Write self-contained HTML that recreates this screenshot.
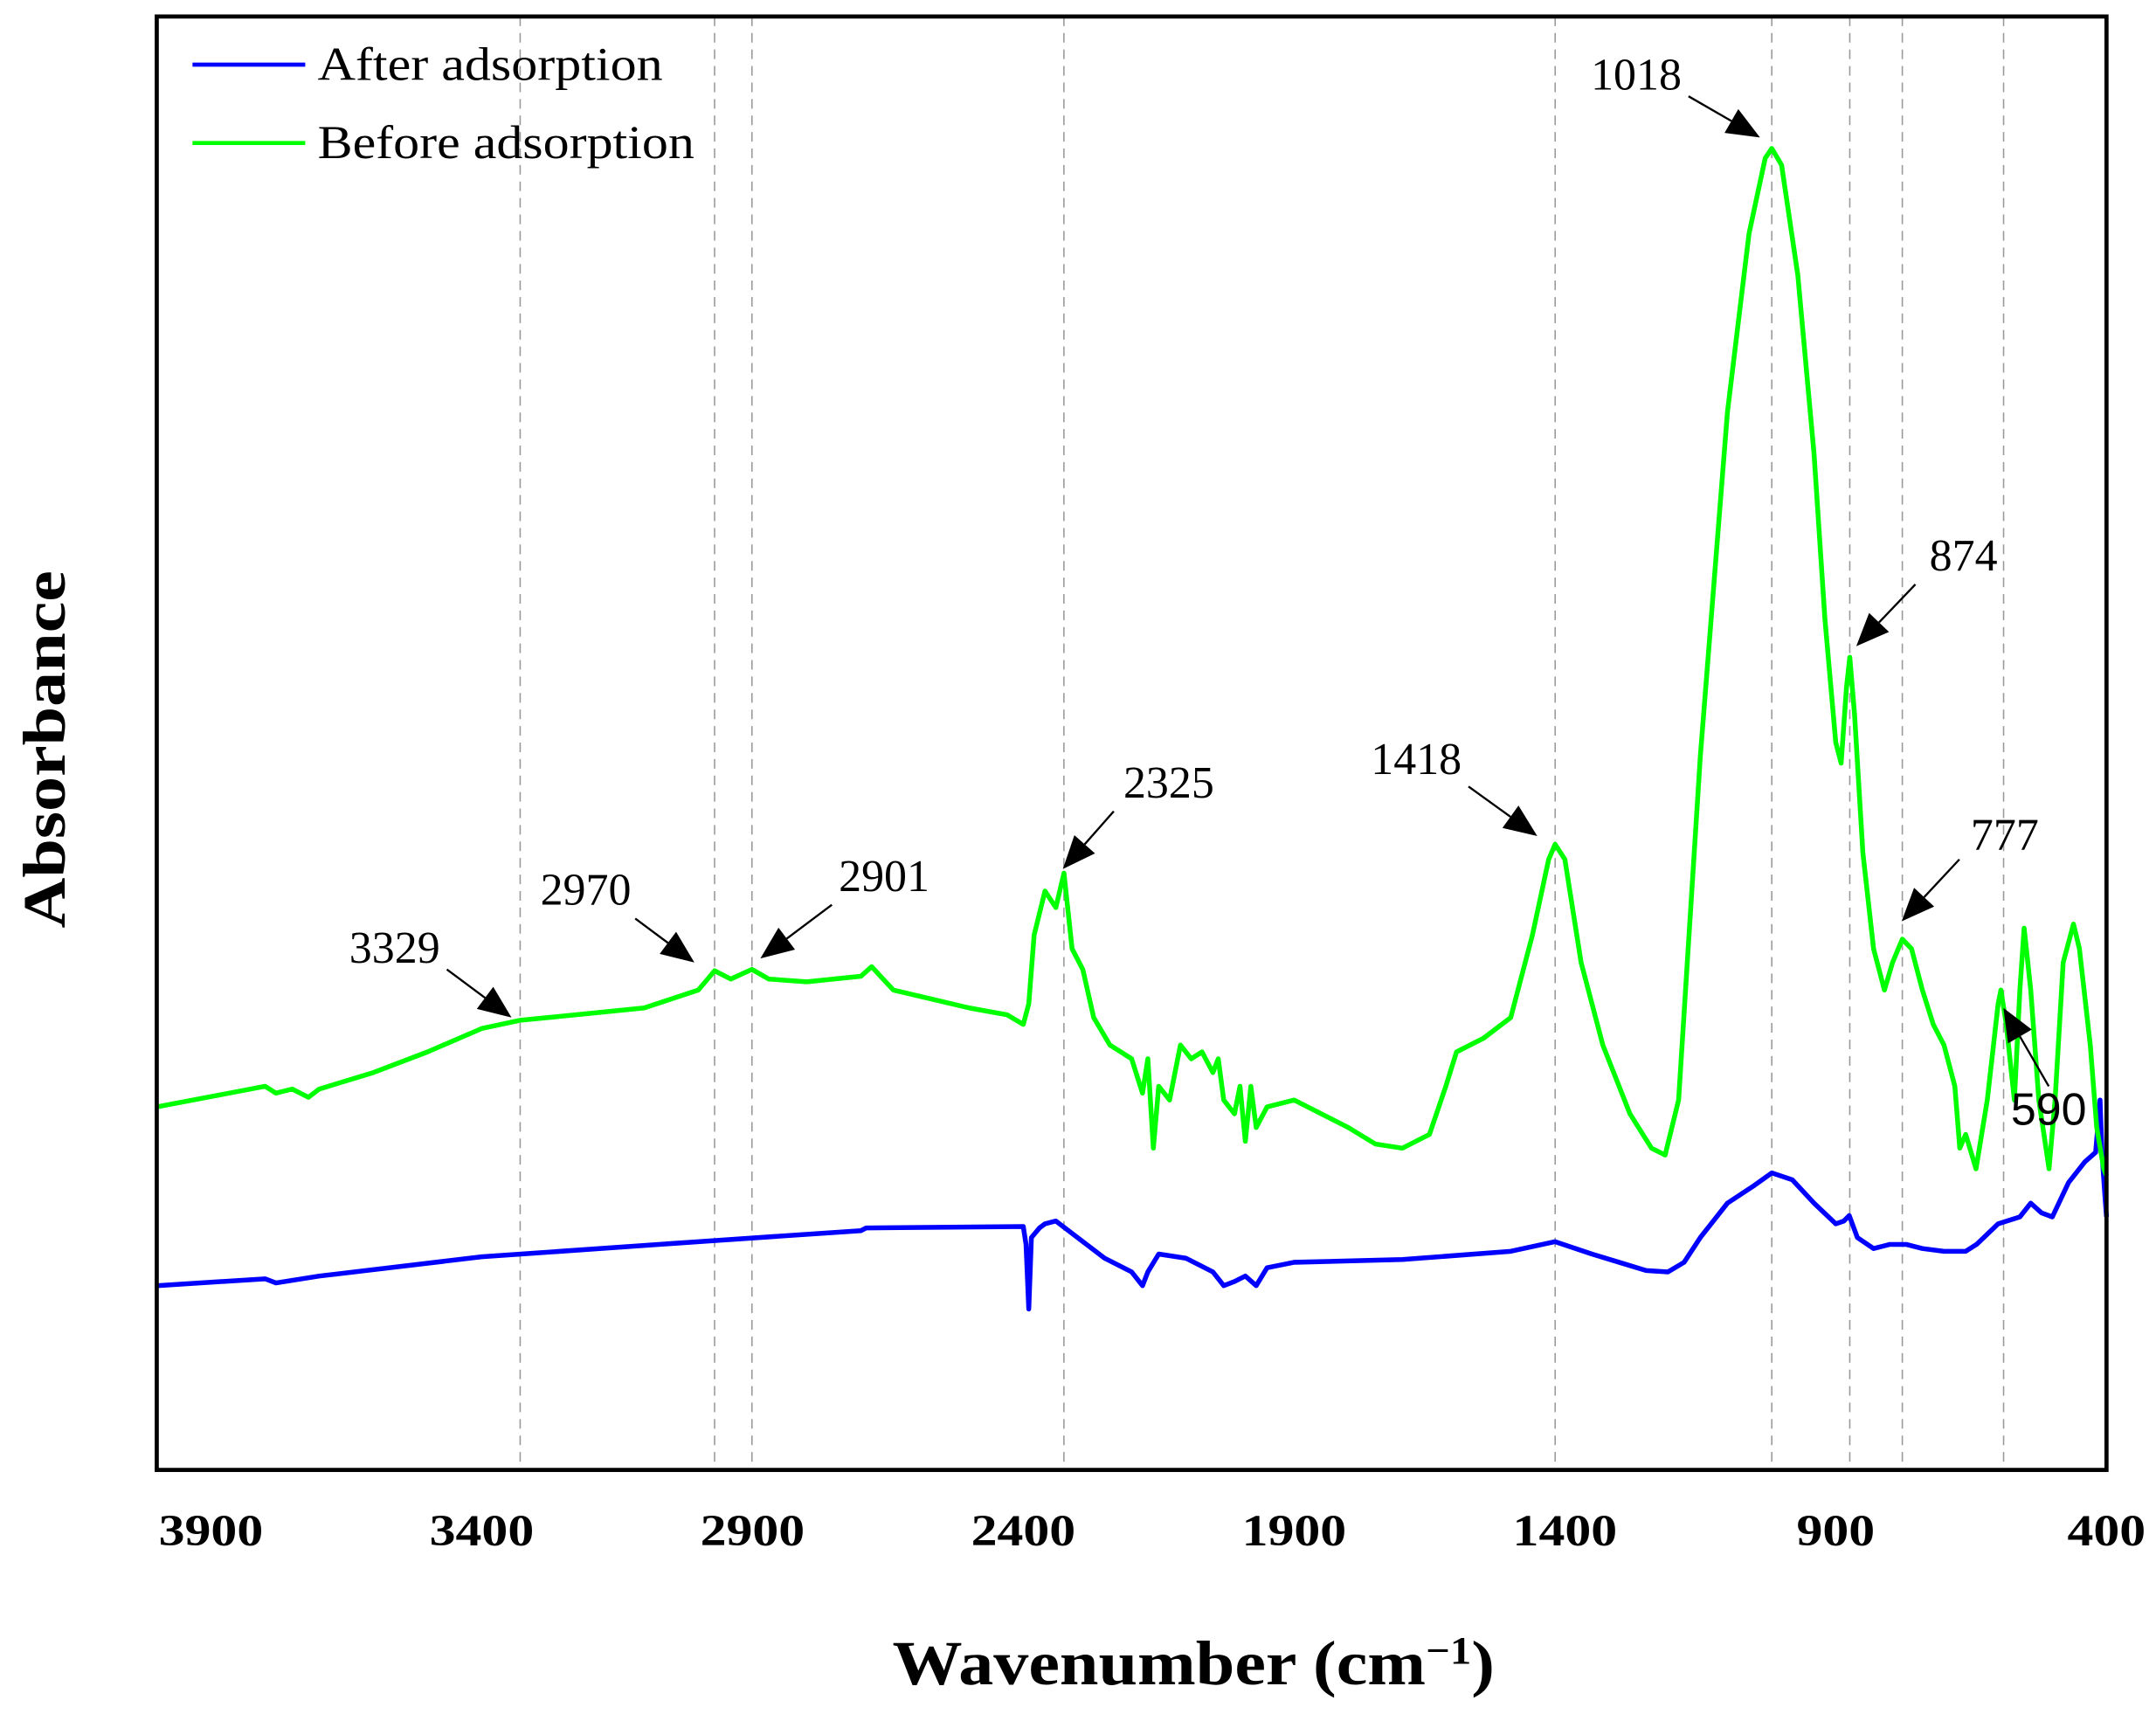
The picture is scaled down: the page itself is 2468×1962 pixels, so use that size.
<!DOCTYPE html>
<html><head><meta charset="utf-8"><style>
html,body{margin:0;padding:0;background:#fff;}
svg{display:block;}
</style></head><body>
<svg id="chart" width="2468" height="1962" viewBox="0 0 1568 1246.5" preserveAspectRatio="none" xmlns="http://www.w3.org/2000/svg">
<rect x="0" y="0" width="1568" height="1246.5" fill="#fff"/>
<g id="grid"></g>
<g id="series"></g>
<rect x="114" y="12" width="1418" height="1057" fill="none" stroke="#000" stroke-width="3"/>
<g id="xticks" font-family="Liberation Serif, serif" font-weight="bold" font-size="32" text-anchor="middle"></g>
<g id="annots"></g>
<g>
 <line x1="140" y1="47" x2="222" y2="47" stroke="#0000ff" stroke-width="3"/>
 <text x="231" y="58" font-family="Liberation Serif, serif" font-size="34" textLength="251" lengthAdjust="spacingAndGlyphs">After adsorption</text>
 <line x1="140" y1="104" x2="222" y2="104" stroke="#00ff00" stroke-width="3"/>
 <text x="231" y="115" font-family="Liberation Serif, serif" font-size="34" textLength="274" lengthAdjust="spacingAndGlyphs">Before adsorption</text>
</g>
<text transform="translate(47,545) rotate(-90)" text-anchor="middle" font-family="Liberation Serif, serif" font-weight="bold" font-size="44" textLength="260" lengthAdjust="spacingAndGlyphs">Absorbance</text>
<text x="868" y="1225" text-anchor="middle" font-family="Liberation Serif, serif" font-weight="bold" font-size="46" textLength="438" lengthAdjust="spacingAndGlyphs">Wavenumber (cm<tspan baseline-shift="super" font-size="28">−1</tspan>)</text>
</svg>
<script>
const xTicks = [3900,3400,2900,2400,1900,1400,900,400];
const peakLabels = [3329,2970,2901,2325,1418,1018,874,777,590];
const greenWn = [4000,3800,3780,3750,3720,3700,3600,3500,3400,3329,3200,3100,3000,2970,2940,2901,2870,2800,2700,2680,2640,2500,2430,2400,2390,2380,2360,2340,2325,2310,2290,2270,2240,2200,2180,2170,2160,2150,2130,2110,2090,2070,2050,2040,2030,2010,2000,1990,1980,1970,1950,1900,1850,1800,1750,1700,1650,1620,1600,1550,1500,1460,1430,1418,1400,1370,1330,1280,1240,1215,1190,1150,1100,1060,1030,1018,1000,970,940,920,900,890,880,874,865,850,830,810,795,777,760,740,720,700,680,671,660,641,620,600,595,585,570,560,552,540,525,506,495,480,461,450,430,418,405,400];
const greenAbs = [264,279,274,277,271,277,289,304,321,327,332,336,349,363,357,364,357,355,359,366,349,336,331,324,339,389,421,409,434,379,364,329,309,299,274,299,234,279,269,309,299,304,289,299,269,259,279,239,279,249,264,269,259,249,237,234,244,279,304,314,329,389,444,455,444,369,309,259,234,229,269,519,769,899,954,961,949,869,739,619,529,514,569,591,549,449,379,349,369,386,379,349,324,309,279,234,244,219,269,339,349,324,269,349,394,349,269,219,269,369,397,379,309,249,219,214];
const blueWn = [4000,3800,3780,3700,3400,3000,2700,2690,2400,2395,2390,2385,2370,2360,2340,2300,2250,2200,2180,2170,2150,2100,2050,2030,2010,1990,1970,1950,1900,1700,1500,1418,1350,1300,1250,1210,1180,1150,1100,1050,1018,980,940,900,885,875,860,830,800,770,740,700,660,640,600,560,540,520,500,470,440,420,412,408,403,400];
const blueAbs = [134,139,136,141,155,166,174,176,177,164,117,169,176,179,181,169,154,144,134,144,157,154,144,134,137,141,134,147,151,153,159,166,157,151,145,144,151,169,194,207,216,211,194,179,181,185,169,161,164,164,161,159,159,164,179,184,194,187,184,209,224,231,269,229,200,184];
const NS="http://www.w3.org/2000/svg";
const L=114,R=1532,T=12,B=1069;
const xs = w => L + (4000-w)/3600*(R-L);
const ys = a => B - a;
function el(tag, attrs, parent){const e=document.createElementNS(NS,tag);for(const k in attrs)e.setAttribute(k,attrs[k]);parent.appendChild(e);return e;}
const grid=document.getElementById('grid');
peakLabels.forEach(p=>{
  const ln=el('line',{x1:xs(p),x2:xs(p),y1:T,y2:B,stroke:'#999','stroke-width':1,'stroke-dasharray':'7,5'},grid);
  
  
});
const series=document.getElementById('series');
function drawLine(wn,ab,color,name){
  let d='';wn.forEach((w,i)=>{d+=(i?'L':'M')+xs(w).toFixed(1)+','+ys(ab[i]).toFixed(1);});
  const p=el('path',{d:d,fill:'none',stroke:color,'stroke-width':3.5,'stroke-linejoin':'round'},series);
  
  
}
drawLine(blueWn,blueAbs,'#0000ff','after-adsorption-line');
drawLine(greenWn,greenAbs,'#00ff00','before-adsorption-line');
const xt=document.getElementById('xticks');
xTicks.forEach(t=>{
  const tx=el('text',{x:xs(t),y:1124,textLength:String(t).length*19,lengthAdjust:'spacingAndGlyphs'},xt);tx.textContent=t;
  
  
});
const annLayout=[[3329,287,700,325,705,372,740],[2970,426,658,462,668,505,700],[2901,643,648,605,658,553,697],[2325,850,580,810,590,773,632],[1418,1030,563,1068,572,1118,608],[1018,1190,65,1228,70,1280,100],[874,1428,415,1393,425,1350,470],[777,1458,618,1425,625,1383,670],[590,1490,818,1490,790,1457,733]];
const an=document.getElementById('annots');
annLayout.forEach(a=>{
  const g=el('g',{},an);
  
  
  const t=el('text',{x:a[1],y:a[2],'text-anchor':'middle','font-family':a[0]===590?'Liberation Sans, sans-serif':'Liberation Serif, serif','font-size':33},g);
  t.textContent=a[0];
  const dx=a[5]-a[3],dy=a[6]-a[4],len=Math.hypot(dx,dy),ux=dx/len,uy=dy/len,hl=24,hw=10;
  const bx=a[5]-ux*hl,by=a[6]-uy*hl;
  el('line',{x1:a[3],y1:a[4],x2:bx,y2:by,stroke:'#000','stroke-width':1.5},g);
  el('polygon',{points:`${a[5]},${a[6]} ${bx-uy*hw},${by+ux*hw} ${bx+uy*hw},${by-ux*hw}`,fill:'#000'},g);
});
</script>
</body></html>
